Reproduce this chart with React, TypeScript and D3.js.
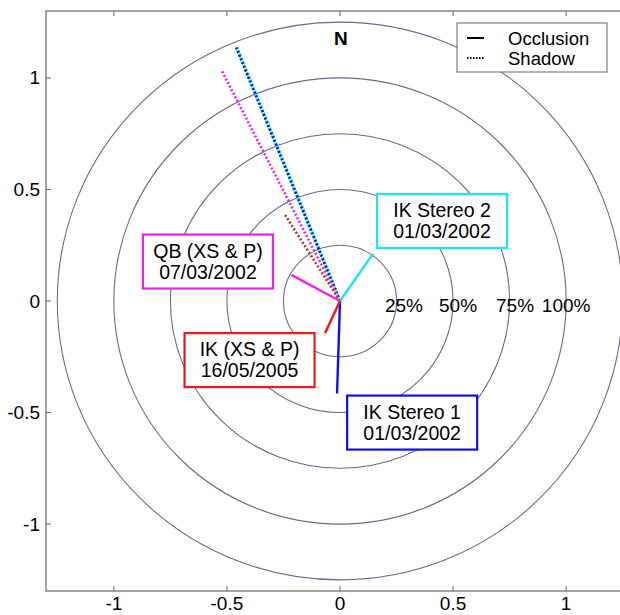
import { scaleLinear } from "d3";

// rings of the polar grid (fraction of max)
const rings = [0.25, 0.5, 0.75, 1, 1.25];
const ringLabels = ["25%", "50%", "75%", "100%"];
const ringLabelX = [0.283, 0.522, 0.774, 1.0];

const ticks = [-1, -0.5, 0, 0.5, 1];

// one entry per acquisition
const sensors = ["IK Stereo 1", "IK Stereo 2", "QB (XS & P)", "IK (XS & P)"];
const dates = ["01/03/2002", "01/03/2002", "07/03/2002", "16/05/2005"];
const colors = ["#1010ee", "#22e4ee", "#ee22ee", "#ee1a1a"];
const shadowColors = ["#1818b0", "#22e4ee", "#ee22ee", "#b03a1c"];
const occlusionX = [-0.013, 0.146, -0.215, -0.066];
const occlusionY = [-0.415, 0.212, 0.117, -0.144];
const shadowX = [-0.46, -0.457, -0.525, -0.243];
const shadowY = [1.14, 1.136, 1.037, 0.386];

// where the label boxes sit (data units, box centre)
const boxX = [0.319, 0.451, -0.584, -0.4];
const boxY = [-0.545, 0.359, 0.177, -0.265];

const W = 620;
const H = 615;
const font = "'Liberation Sans', Arial, sans-serif";

const App = () => {
  const x = scaleLinear().domain([-1.3, 1.3]).range([46, 634]);
  const y = scaleLinear().domain([-1.3, 1.3]).range([591, 11]);
  const x0 = x(0);
  const y0 = y(0);

  // draw the thick cyan shadow under the blue one
  const shadowOrder = [1, 0, 2, 3];

  return (
    <svg
      width={W}
      height={H}
      style={{ position: "absolute", left: 0, top: 0, background: "#fff" }}
      fontFamily={font}
    >
      {/* frame */}
      <rect x={x(-1.3)} y={y(1.3)} width={x(1.3) - x(-1.3)} height={y(-1.3) - y(1.3)}
        fill="none" stroke="#666" strokeWidth={1.2} />
      {ticks.map((t) => (
        <g key={"t" + t}>
          <line x1={x(t)} x2={x(t)} y1={y(-1.3)} y2={y(-1.3) - 5} stroke="#666" />
          <line x1={x(t)} x2={x(t)} y1={y(1.3)} y2={y(1.3) + 5} stroke="#666" />
          <line x1={x(-1.3)} x2={x(-1.3) + 5} y1={y(t)} y2={y(t)} stroke="#666" />
          <text x={x(t)} y={y(-1.3) + 12} fontSize={19} textAnchor="middle" dominantBaseline="central">
            {t}
          </text>
          <text x={x(-1.3) - 6} y={y(t)} fontSize={19} textAnchor="end" dominantBaseline="central">
            {t}
          </text>
        </g>
      ))}

      {/* grid rings */}
      {rings.map((r) => (
        <ellipse key={"r" + r} cx={x0} cy={y0} rx={x(r) - x0} ry={y0 - y(r)}
          fill="none" stroke="#6a6a92" strokeWidth={1.1} />
      ))}
      {ringLabels.map((l, i) => (
        <text key={l} x={x(ringLabelX[i])} y={y(-0.02)} fontSize={19}
          textAnchor="middle" dominantBaseline="central">{l}</text>
      ))}
      <text x={x(0.004)} y={y(1.175)} fontSize={19} fontWeight="bold"
        textAnchor="middle" dominantBaseline="central">N</text>

      {/* shadows */}
      {shadowOrder.map((i) => (
        <line key={"s" + i} x1={x0} y1={y0} x2={x(shadowX[i])} y2={y(shadowY[i])}
          stroke={shadowColors[i]} strokeWidth={i === 1 ? 3.5 : 2.6}
          strokeDasharray={i === 1 ? "3,1" : "2,2"} />
      ))}
      {/* occlusions */}
      {sensors.map((s, i) => (
        <line key={"o" + i} x1={x0} y1={y0} x2={x(occlusionX[i])} y2={y(occlusionY[i])}
          stroke={colors[i]} strokeWidth={2.4} />
      ))}

      {/* label boxes */}
      {sensors.map((s, i) => (
        <g key={"b" + i} transform={`translate(${x(boxX[i])},${y(boxY[i])})`}>
          <rect x={-65} y={-27} width={130} height={54} fill="#fff" stroke={colors[i]} strokeWidth={2.2} />
          <text y={-11} fontSize={19.5} textAnchor="middle" dominantBaseline="central">{s}</text>
          <text y={10} fontSize={19.5} textAnchor="middle" dominantBaseline="central">{dates[i]}</text>
        </g>
      ))}

      {/* legend */}
      <g transform="translate(457,23)">
        <rect width={150} height={49} fill="#fff" stroke="#666" strokeWidth={1} />
        <line x1={10} x2={27} y1={15} y2={15} stroke="#000" strokeWidth={2} />
        <text x={51} y={15} fontSize={18.5} dominantBaseline="central">Occlusion</text>
        <line x1={10} x2={27} y1={35} y2={35} stroke="#000" strokeWidth={2} strokeDasharray="1.5,1.5" />
        <text x={51} y={35} fontSize={18.5} dominantBaseline="central">Shadow</text>
      </g>
    </svg>
  );
};

export default App;
